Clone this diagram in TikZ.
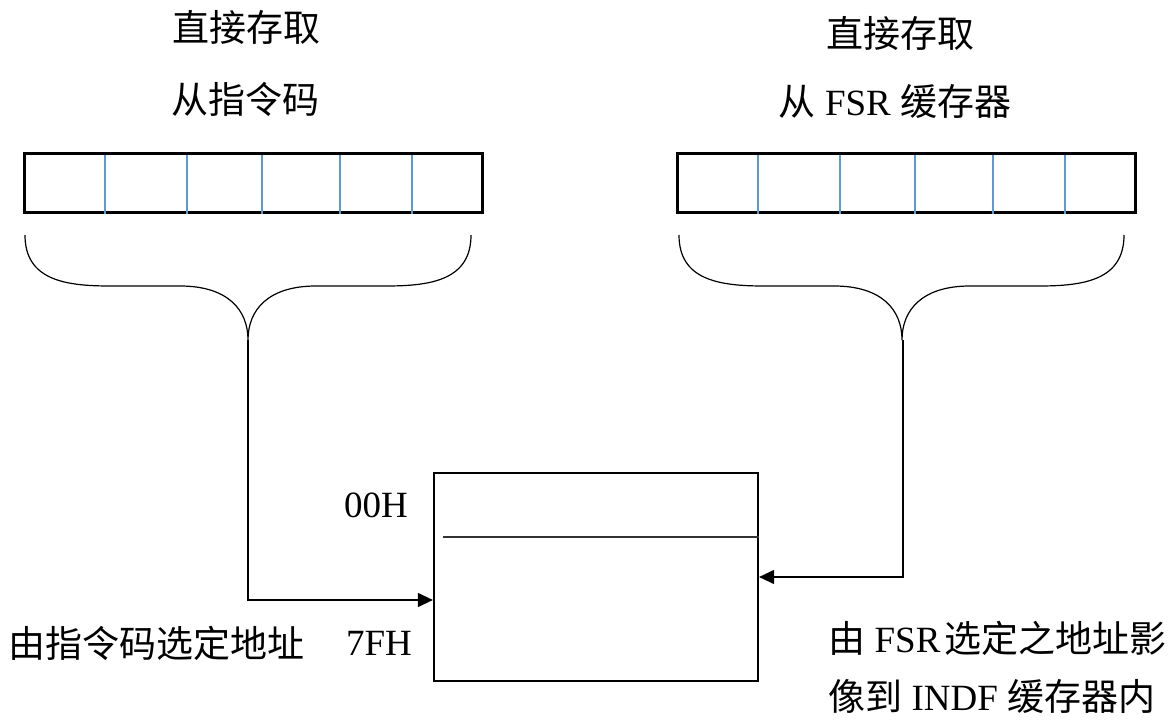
\documentclass[tikz,border=0pt]{standalone}
\usepackage{fontspec}
\setmainfont{Liberation Serif}
\newfontfamily\cjk{Noto Sans CJK SC}
\usetikzlibrary{arrows.meta}
\definecolor{divblue}{RGB}{91,155,213}
\newcommand{\zh}[1]{{\cjk #1}}

\begin{document}
\begin{tikzpicture}[x=0.5pt,y=-0.5pt]
			\tikzstyle{reg} = [rectangle, draw, line width=1.5pt, minimum width=229pt, minimum height=29.5pt, inner sep=0pt]
			\tikzstyle{mem} = [rectangle, draw, line width=1.1pt, minimum width=162pt, minimum height=104pt, inner sep=0pt]
			\tikzstyle{lbl} = [draw=none, inner sep=0pt, font=\fontsize{18.5pt}{22pt}\selectfont]
			\tikzstyle{divider} = [draw=divblue, line width=0.6pt]
			\tikzstyle{brace} = [draw, line width=0.6pt]
			\tikzstyle{arrow} = [draw, line width=0.6pt, -{Triangle[length=7.5pt,width=7pt]}]
			\useasboundingbox (0,0) rectangle (1172,727);

			% registers
			\node [reg] (regA) at (253,183.5) {};
			\node [reg] (regB) at (906,183.5) {};
			\foreach \x in {105,187,262,340,412} \draw[divider] (\x,155) -- (\x,214);
			\foreach \x in {758,840,915,993,1065} \draw[divider] (\x,155) -- (\x,214);

			% braces
			\foreach \l/\t/\r in {25/248/471, 679/902/1124}
				\draw[brace] (\l,235) .. controls (\l,280) and (\l+40,286) .. (\l+85,286) -- (\t-68,286)
					.. controls (\t-20,286) and (\t,310) .. (\t,340)
					.. controls (\t,310) and (\t+20,286) .. (\t+68,286) -- (\r-85,286)
					.. controls (\r-40,286) and (\r,280) .. (\r,235);
			\coordinate (tipA) at (248,340);
			\coordinate (tipB) at (903,340);

			% memory
			\node [mem] (ram) at (596,577) {};
			\draw[line width=0.6pt, black!80] (443,537) -- (ram.east |- 0,537);
			\coordinate (inA) at (ram.west |- 0,600);

			% labels
			\node [lbl] (srcA1) at (246,27) {\zh{直接存取}};
			\node [lbl] (srcA2) at (245,99) {\zh{从指令码}};
			\node [lbl] (srcB1) at (900,33) {\zh{直接存取}};
			\node [lbl] (srcB2) at (895,101) {\zh{从} FSR \zh{缓存器}};
			\node [lbl] (lo) at (376,505) {00H};
			\node [lbl] (hi) at (379,643) {7FH};
			\node [lbl, anchor=west] (selA) at (8,643) {\zh{由指令码选定地址}};
			\node [lbl, anchor=west] (selB1) at (828,638) {\zh{由} FSR\hspace{0.12em}\zh{选定之地址影}};
			\node [lbl, anchor=west] (selB2) at (828,696) {\zh{像到} INDF \zh{缓存器内}};

			\path[arrow] (tipA) |- (inA);
			\path[arrow] (tipB) |- (ram.east);
		\end{tikzpicture}
\end{document}
